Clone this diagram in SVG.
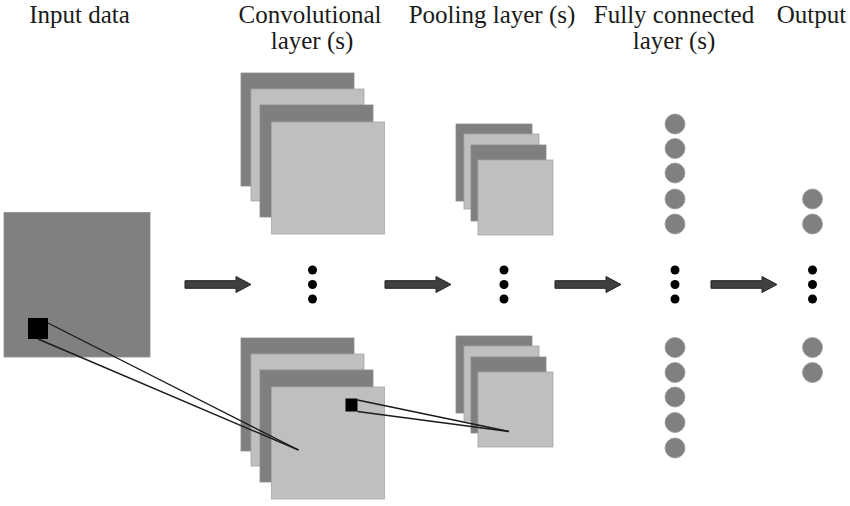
<svg xmlns="http://www.w3.org/2000/svg" width="850" height="506" viewBox="0 0 850 506">
<defs>
<style>
text{font-family:"Liberation Serif","Times New Roman",serif;font-size:25px;fill:#1a1a1a;text-anchor:middle}
.dk{fill:#7f7f7f;stroke:#8c8c8c;stroke-width:0.8}
.lt{fill:#bfbfbf;stroke:#a6a6a6;stroke-width:0.8}
.nd{fill:#808080;stroke:#9a9a9a;stroke-width:0.8}
.dot{fill:#000}
.ln{stroke:#1a1a1a;stroke-width:1.4;fill:none}
.ar{fill:#404040;stroke:#222;stroke-width:1}
</style>
<g id="convstack">
<rect class="dk" x="241" y="73" width="113" height="113"/>
<rect class="lt" x="251" y="89" width="113" height="112"/>
<rect class="dk" x="260" y="105" width="113" height="112"/>
<rect class="lt" x="271.5" y="122" width="113" height="112"/>
</g>
<g id="poolstack">
<rect class="dk" x="456" y="124" width="76" height="77"/>
<rect class="lt" x="464" y="134" width="75" height="75"/>
<rect class="dk" x="471" y="145" width="75" height="76"/>
<rect class="lt" x="478" y="160" width="75" height="75"/>
</g>
<g id="vdots">
<circle class="dot" cx="0" cy="270" r="4.5"/>
<circle class="dot" cx="0" cy="284.5" r="4.5"/>
<circle class="dot" cx="0" cy="299" r="4.5"/>
</g>
<path id="arrow" class="ar" d="M0,-3.8 H51 V-8 L66,0 L51,8 V3.8 H0 Z"/>
</defs>

<g id="titles">
<text x="79.5" y="23">Input data</text>
<text x="310" y="23">Convolutional</text>
<text x="312" y="49">layer (s)</text>
<text x="492" y="23">Pooling layer (s)</text>
<text x="674" y="23">Fully connected</text>
<text x="674" y="49">layer (s)</text>
<text x="811.5" y="23">Output</text>
</g>

<g id="input">
<rect x="4" y="212.5" width="146" height="144.5" fill="#808080" stroke="#8c8c8c" stroke-width="0.8"/>
<rect x="28" y="318" width="20" height="21" fill="#000"/>
</g>

<g id="conv-top"><use href="#convstack"/></g>
<g id="conv-dots"><use href="#vdots" x="312.5"/></g>
<g id="conv-bottom">
<use href="#convstack" y="265"/>
<rect x="345.5" y="398.5" width="12" height="13" fill="#000"/>
</g>

<g id="pool-top"><use href="#poolstack"/></g>
<g id="pool-dots"><use href="#vdots" x="504"/></g>
<g id="pool-bottom"><use href="#poolstack" y="212"/></g>

<g id="fc">
<circle class="nd" cx="675" cy="124" r="10"/>
<circle class="nd" cx="675" cy="148.5" r="10"/>
<circle class="nd" cx="675" cy="173" r="10"/>
<circle class="nd" cx="675" cy="199" r="10"/>
<circle class="nd" cx="675" cy="224" r="10"/>
<use href="#vdots" x="675"/>
<circle class="nd" cx="675" cy="347.5" r="10"/>
<circle class="nd" cx="675" cy="372.5" r="10"/>
<circle class="nd" cx="675" cy="397" r="10"/>
<circle class="nd" cx="675" cy="422.5" r="10"/>
<circle class="nd" cx="675" cy="448" r="10"/>
</g>

<g id="output">
<circle class="nd" cx="812.5" cy="199" r="10"/>
<circle class="nd" cx="812.5" cy="224" r="10"/>
<use href="#vdots" x="812.5"/>
<circle class="nd" cx="812.5" cy="347.5" r="10"/>
<circle class="nd" cx="812.5" cy="372.5" r="10"/>
</g>

<g id="connectors">
<use href="#arrow" x="185" y="284.5"/>
<use href="#arrow" x="385" y="284.5"/>
<use href="#arrow" x="555" y="284.5"/>
<use href="#arrow" x="711" y="284.5"/>
<line class="ln" x1="48" y1="323" x2="298.5" y2="450"/>
<line class="ln" x1="38" y1="339" x2="298.5" y2="450"/>
<line class="ln" x1="357.5" y1="400" x2="509" y2="431.5"/>
<line class="ln" x1="357.5" y1="411.5" x2="509" y2="431.5"/>
</g>
</svg>
